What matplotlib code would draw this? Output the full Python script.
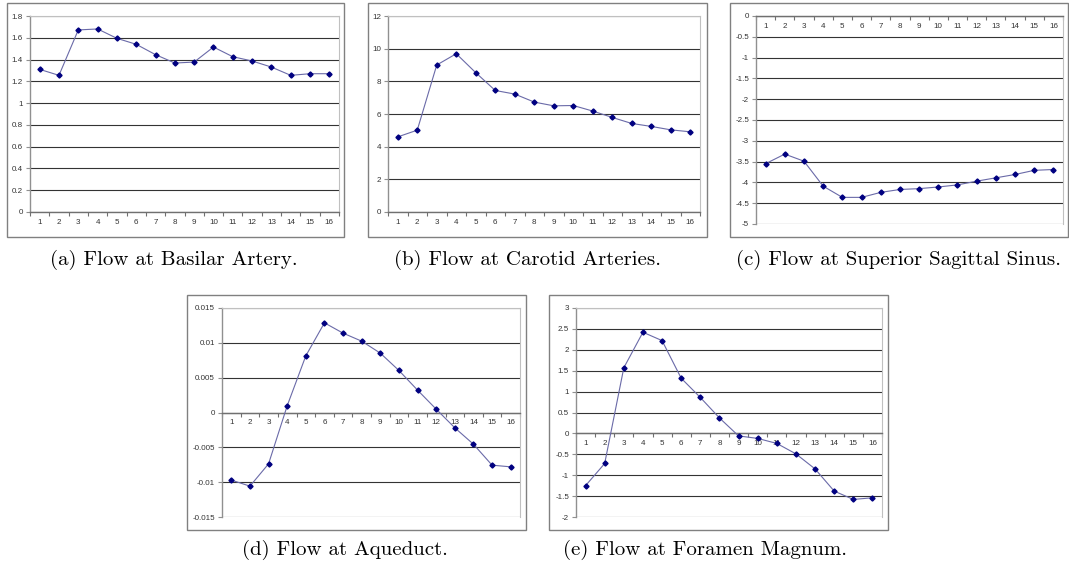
import matplotlib
matplotlib.use("Agg")
import matplotlib.pyplot as plt
from matplotlib.patches import Rectangle
from matplotlib.ticker import MultipleLocator, FuncFormatter, FixedLocator
import numpy as np

W, H = 1069, 571

categories = list(range(1, 17))

basilar = [1.31, 1.255, 1.672, 1.681, 1.595, 1.54, 1.445, 1.368, 1.377, 1.515,
           1.426, 1.387, 1.331, 1.255, 1.27, 1.27]
carotid = [4.6, 5.01, 9.0, 9.69, 8.53, 7.44, 7.22, 6.73, 6.5, 6.52,
           6.18, 5.79, 5.42, 5.24, 5.03, 4.91]
sagittal = [-3.55, -3.32, -3.49, -4.09, -4.36, -4.36, -4.24, -4.17, -4.15, -4.11,
            -4.06, -3.97, -3.89, -3.81, -3.71, -3.69]
aqueduct = [-0.0097, -0.01057, -0.00737, 0.00096, 0.00813, 0.01287, 0.01139, 0.01024,
            0.00852, 0.00603, 0.00321, 0.00048, -0.0022, -0.00455, -0.00756, -0.0078]
foramen = [-1.25, -0.72, 1.57, 2.42, 2.22, 1.32, 0.86, 0.37, -0.06, -0.12,
           -0.24, -0.49, -0.85, -1.38, -1.58, -1.54]

captions = ["(a) Flow at Basilar Artery.",
            "(b) Flow at Carotid Arteries.",
            "(c) Flow at Superior Sagittal Sinus.",
            "(d) Flow at Aqueduct.",
            "(e) Flow at Foramen Magnum."]

ylims = [(0, 1.8), (0, 12), (-5, 0), (-0.015, 0.015), (-2, 3)]
ysteps = [0.2, 2, 0.5, 0.005, 0.5]
series = [basilar, carotid, sagittal, aqueduct, foramen]

# layout (pixel boxes: frame, plot area, caption center)
frames = [(7, 3, 344, 237), (368, 3, 707, 237), (730, 3, 1068, 237),
          (187, 295, 526, 530), (549, 295, 888, 530)]
plots = [(30, 16, 339, 212), (388, 16, 700, 212), (756, 16, 1063, 224),
         (222, 308, 520, 517), (576, 308, 882, 517)]
cap_pos = [(174, 260), (528, 260), (898, 260), (345, 550), (705, 550)]

fig = plt.figure(figsize=(W / 100, H / 100), dpi=100)
fig.patch.set_facecolor("white")


def rect(x0, y0, x1, y1):
    return [x0 / W, 1 - y1 / H, (x1 - x0) / W, (y1 - y0) / H]


def fmt(v, pos):
    v = round(v, 6)
    if abs(v) < 1e-12:
        return "0"
    return "{:g}".format(v)


tick_font = dict(family="Liberation Sans", size=5.8)

for i in range(5):
    fx0, fy0, fx1, fy1 = frames[i]
    fig.patches.append(Rectangle((fx0 / W, 1 - fy1 / H), (fx1 - fx0) / W, (fy1 - fy0) / H,
                                 transform=fig.transFigure, fill=False,
                                 edgecolor="#808080", linewidth=1.0))
    ax = fig.add_axes(rect(*plots[i]))
    ax.set_facecolor("white")
    ax.plot(categories, series[i], color="#6a6aa8", linewidth=0.8,
            marker="D", markersize=2.6, markerfacecolor="#000080",
            markeredgecolor="#000080", zorder=5, clip_on=False)
    ax.set_xlim(0.5, 16.5)
    ax.set_ylim(*ylims[i])
    ax.yaxis.set_major_locator(MultipleLocator(ysteps[i]))
    ax.yaxis.set_major_formatter(FuncFormatter(fmt))
    ax.grid(axis="y", color="#333333", linewidth=0.8)
    ax.set_axisbelow(True)

    # x axis at zero
    ax.spines["bottom"].set_position(("data", 0))
    ax.spines["bottom"].set_color("#707070")
    ax.spines["bottom"].set_linewidth(1.0)
    ax.spines["bottom"].set_zorder(3)
    ax.spines["left"].set_color("#909090")
    ax.spines["left"].set_linewidth(1.0)
    ax.spines["top"].set_color("#c0c0c0")
    ax.spines["right"].set_color("#c0c0c0")
    ax.spines["top"].set_linewidth(0.8)
    ax.spines["right"].set_linewidth(0.8)

    # category ticks at boundaries, labels at centres
    ax.xaxis.set_major_locator(FixedLocator(np.arange(0.5, 17, 1.0)))
    ax.xaxis.set_major_formatter(FuncFormatter(lambda v, p: ""))
    ax.xaxis.set_minor_locator(FixedLocator(categories))
    ax.xaxis.set_minor_formatter(FuncFormatter(lambda v, p: "%d" % round(v)))
    ax.tick_params(axis="x", which="major", direction="out", length=3,
                   width=0.8, color="#707070")
    ax.tick_params(axis="x", which="minor", length=0, pad=5,
                   labelsize=tick_font["size"], labelcolor="#333333")
    ax.tick_params(axis="y", which="major", direction="out", length=3,
                   width=0.8, color="#909090", pad=2,
                   labelsize=tick_font["size"], labelcolor="#333333")
    for lab in ax.get_xticklabels(minor=True) + ax.get_yticklabels():
        lab.set_family(tick_font["family"])

    cx, cy = cap_pos[i]
    fig.text(cx / W, 1 - cy / H, captions[i], ha="center", va="center",
             family="cmr10", fontsize=15, color="black")

fig.savefig("out.png", dpi=100, facecolor="white")
